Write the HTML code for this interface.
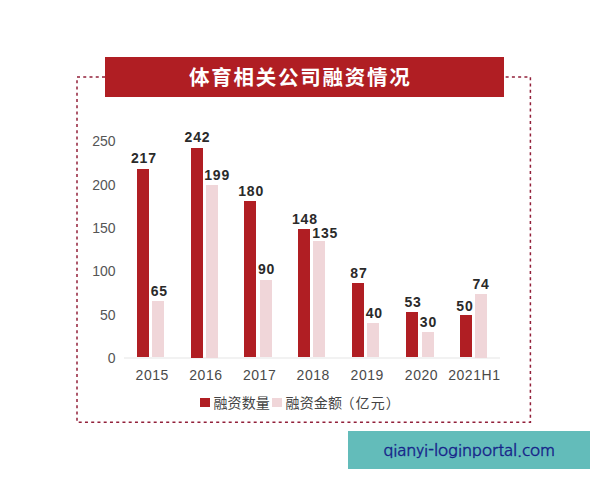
<!DOCTYPE html>
<html lang="zh"><head><meta charset="utf-8"><title>体育相关公司融资情况</title>
<style>
html,body{margin:0;padding:0;background:#fff;}
body{width:600px;height:480px;position:relative;overflow:hidden;font-family:"Liberation Sans","Noto Sans CJK SC",sans-serif;}
.abs{position:absolute;}
.banner{left:105px;top:57px;width:399px;height:39.5px;background:#b01e23;}
.title{left:100.8px;top:57px;width:399px;height:39.5px;line-height:39.5px;color:#fff;font-weight:bold;font-size:20.5px;letter-spacing:1.75px;text-align:center;font-family:"Noto Sans CJK SC","Liberation Sans",sans-serif;white-space:nowrap;}
.ylab{width:40px;text-align:right;left:75.6px;font-size:14px;color:#555;height:16px;line-height:16px;letter-spacing:0px;}
.xlab{width:80px;text-align:center;font-size:14px;color:#4a4a4a;height:16px;line-height:16px;letter-spacing:0.55px;top:367.2px;}
.r{background:#b01e23;}
.p{background:#f0d6d9;}
.v{width:60px;text-align:center;font-weight:bold;font-size:14px;color:#2a2a2a;height:14px;line-height:14px;letter-spacing:0.85px;}
.leg{letter-spacing:0.1px;font-size:14px;color:#444;height:18px;line-height:18px;top:394px;white-space:nowrap;font-family:"Liberation Sans","Noto Sans CJK SC",sans-serif;}
.wm{left:348px;top:431.3px;width:242.3px;height:38.2px;background:#63bcba;}
.wmt{left:348px;top:431.3px;width:242.3px;height:38.2px;line-height:38.2px;text-align:center;color:#17258a;-webkit-text-stroke:0.3px #17258a;font-size:16.55px;font-family:"NanumGothic","Liberation Sans",sans-serif;white-space:nowrap;}
</style></head><body>
<svg class="abs" style="left:0;top:0" width="600" height="480" viewBox="0 0 600 480">
<path d="M105 77 H77 V422.3 H530.4 V77 H504" fill="none" stroke="#92203a" stroke-width="1.5" stroke-dasharray="3 3.25"/>
<line x1="124" y1="358" x2="500" y2="358" stroke="#e6e6e6" stroke-width="1.2"/>
</svg>
<div class="abs banner"></div>
<div class="abs title">体育相关公司融资情况</div>

<div class="abs ylab" style="top:350.1px">0</div>
<div class="abs ylab" style="top:306.8px">50</div>
<div class="abs ylab" style="top:263.3px">100</div>
<div class="abs ylab" style="top:220.0px">150</div>
<div class="abs ylab" style="top:176.6px">200</div>
<div class="abs ylab" style="top:133.2px">250</div>
<div class="abs r" style="left:137.0px;top:169.2px;width:12.0px;height:188.3px"></div>
<div class="abs p" style="left:152.4px;top:301.2px;width:12.0px;height:56.3px"></div>
<div class="abs v" style="left:113.9px;top:151.0px">217</div>
<div class="abs v" style="left:129.3px;top:284.0px">65</div>
<div class="abs xlab" style="left:112.3px">2015</div>
<div class="abs r" style="left:190.6px;top:147.5px;width:12.0px;height:210.0px"></div>
<div class="abs p" style="left:206.0px;top:185.0px;width:12.0px;height:172.5px"></div>
<div class="abs v" style="left:167.5px;top:130.3px">242</div>
<div class="abs v" style="left:187.1px;top:167.8px">199</div>
<div class="abs xlab" style="left:165.9px">2016</div>
<div class="abs r" style="left:244.3px;top:201.2px;width:12.0px;height:156.3px"></div>
<div class="abs p" style="left:259.7px;top:279.6px;width:12.0px;height:77.9px"></div>
<div class="abs v" style="left:221.2px;top:184.0px">180</div>
<div class="abs v" style="left:236.6px;top:262.4px">90</div>
<div class="abs xlab" style="left:219.6px">2017</div>
<div class="abs r" style="left:298.0px;top:228.8px;width:12.0px;height:128.7px"></div>
<div class="abs p" style="left:313.4px;top:240.7px;width:12.0px;height:116.8px"></div>
<div class="abs v" style="left:274.9px;top:211.7px">148</div>
<div class="abs v" style="left:295.3px;top:226.2px">135</div>
<div class="abs xlab" style="left:273.3px">2018</div>
<div class="abs r" style="left:352.0px;top:282.8px;width:12.0px;height:74.7px"></div>
<div class="abs p" style="left:367.4px;top:323.3px;width:12.0px;height:34.2px"></div>
<div class="abs v" style="left:328.9px;top:265.6px">87</div>
<div class="abs v" style="left:344.3px;top:306.1px">40</div>
<div class="abs xlab" style="left:327.3px">2019</div>
<div class="abs r" style="left:406.2px;top:311.9px;width:12.0px;height:45.6px"></div>
<div class="abs p" style="left:421.6px;top:331.9px;width:12.0px;height:25.6px"></div>
<div class="abs v" style="left:383.1px;top:294.7px">53</div>
<div class="abs v" style="left:398.5px;top:314.7px">30</div>
<div class="abs xlab" style="left:381.5px">2020</div>
<div class="abs r" style="left:460.0px;top:314.6px;width:12.0px;height:42.9px"></div>
<div class="abs p" style="left:475.4px;top:294.0px;width:12.0px;height:63.5px"></div>
<div class="abs v" style="left:434.9px;top:298.6px">50</div>
<div class="abs v" style="left:451.1px;top:276.8px">74</div>
<div class="abs xlab" style="left:434.3px">2021H1</div>
<div class="abs r" style="left:200px;top:398px;width:9.5px;height:9px"></div>
<div class="abs leg" style="left:213.5px">融资数量</div>
<div class="abs p" style="left:272px;top:398px;width:9.5px;height:9px"></div>
<div class="abs leg" style="left:285.6px">融资金额<span style="letter-spacing:1.1px;margin-left:-1.5px">（亿元）</span></div>
<div class="abs wm"></div>
<div class="abs wmt">qianyi-loginportal.com</div>
</body></html>
